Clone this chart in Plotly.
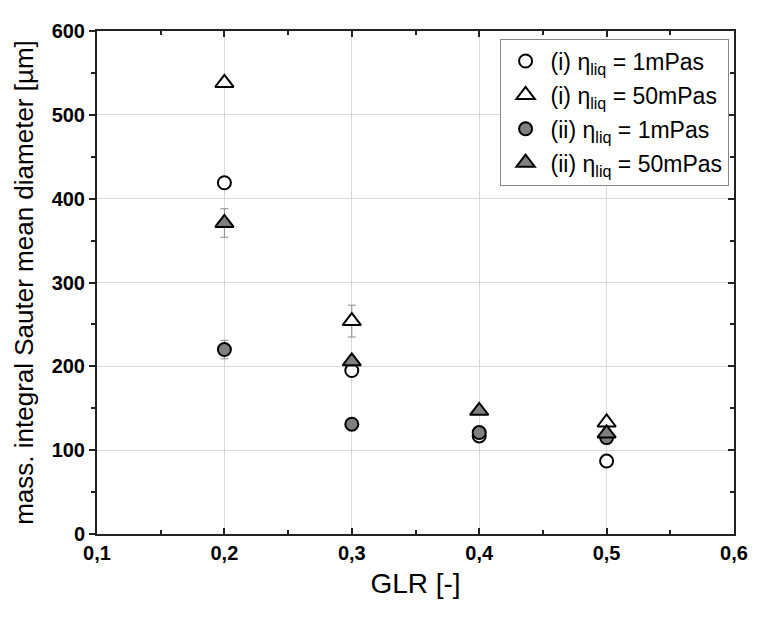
import plotly.graph_objects as go

glr = [0.2, 0.3, 0.4, 0.5]

i_1_y = [419, 195, 117, 87]
i_1_err = [5, 5, 3, 3]

i_50_x = [0.2, 0.3, 0.5]
i_50_y = [538, 254, 133]
i_50_err = [0, 19, 4]

ii_1_y = [220, 131, 121, 115]
ii_1_err = [11, 4, 4, 3]

ii_50_y = [371, 206, 147, 120]
ii_50_err = [17, 6, 4, 4]

names = ["(i) η<sub>liq</sub> = 1mPas", "(i) η<sub>liq</sub> = 50mPas",
         "(ii) η<sub>liq</sub> = 1mPas", "(ii) η<sub>liq</sub> = 50mPas"]

FONT = "Arial, Liberation Sans, sans-serif"
err_style = dict(type="data", color="#8c8c8c", thickness=1, width=4)

fig = go.Figure()

def add(x, y, err, name, symbol, fill, size, g):
    fig.add_trace(go.Scatter(
        x=x, y=y, mode="markers", name=name, legendgroup=g,
        error_y=dict(array=err, **err_style),
        marker=dict(symbol=symbol, size=size, color=fill,
                    line=dict(color="black", width=2)),
    ))

add(glr, i_1_y, i_1_err, names[0], "circle", "white", 13, "a")
add(i_50_x, i_50_y, i_50_err, names[1], "triangle-up", "white", 16, "b")
add(glr, ii_1_y, ii_1_err, names[2], "circle", "#808080", 13, "c")
add(glr, ii_50_y, ii_50_err, names[3], "triangle-up", "#808080", 16, "d")

# invisible trace to activate secondary y axis on the right
fig.add_trace(go.Scatter(x=[0.1], y=[0], yaxis="y2", mode="markers",
                         marker=dict(opacity=0), showlegend=False,
                         hoverinfo="skip"))

fig.update_layout(
    width=752, height=609,
    margin=dict(l=89, r=17, t=17, b=83),
    plot_bgcolor="white", paper_bgcolor="white",
    separators=",.",
    font=dict(family=FONT, color="black"),
    showlegend=True,
    legend=dict(x=0.632, y=0.985, xanchor="left", yanchor="top",
                bordercolor="#888888", borderwidth=1,
                font=dict(size=23, family=FONT),
                tracegroupgap=1, itemwidth=40,
                bgcolor="white"),
    xaxis=dict(range=[0.1, 0.6], dtick=0.1, tick0=0.1, tickformat=".1f",
               showline=True, linecolor="#222", linewidth=2, mirror="ticks",
               ticks="inside", ticklen=6, tickwidth=2, tickcolor="#222",
               showgrid=True, gridcolor="#d9d9d9", gridwidth=1,
               zeroline=False,
               minor=dict(dtick=0.05, ticks="inside", ticklen=4, tickwidth=2,
                          tickcolor="#222", showgrid=False),
               tickfont=dict(size=20, family=FONT, weight="bold"),
               title=dict(text="GLR [-]", font=dict(size=28, family=FONT),
                          standoff=10)),
    yaxis=dict(range=[0, 600], dtick=100,
               showline=True, linecolor="#222", linewidth=2,
               ticks="outside", ticklen=6, tickwidth=2, tickcolor="#222",
               showgrid=True, gridcolor="#d9d9d9", gridwidth=1,
               zeroline=False,
               minor=dict(dtick=50, ticks="outside", ticklen=4, tickwidth=2,
                          tickcolor="#222", showgrid=False),
               tickfont=dict(size=20, family=FONT, weight="bold"),
               title=dict(text="mass. integral Sauter mean diameter [µm]",
                          font=dict(size=26, family=FONT), standoff=11)),
    yaxis2=dict(range=[0, 600], dtick=100, overlaying="y", side="right",
                showline=True, linecolor="#222", linewidth=2,
                ticks="inside", ticklen=6, tickwidth=2, tickcolor="#222",
                showticklabels=False, showgrid=False, zeroline=False,
                minor=dict(dtick=50, ticks="inside", ticklen=4, tickwidth=2,
                           tickcolor="#222")),
)

fig.write_html("out.html")
